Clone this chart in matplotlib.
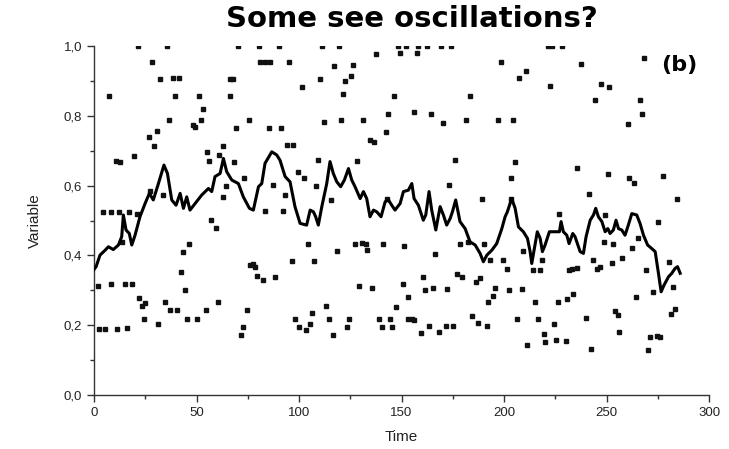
import matplotlib
matplotlib.use("Agg")
import matplotlib.pyplot as plt
from matplotlib.ticker import MultipleLocator, FuncFormatter

# scattered observations (time, value)
time_pts = [2.1, 2.5, 4.2, 5.5, 7.5, 8.1, 8.1, 10.7, 11.2, 12.0, 12.7, 13.8, 15.1, 16.2, 17.2,
            18.4, 19.4, 20.8, 21.6, 22.1, 23.3, 24.4, 24.9, 26.7, 27.3, 28.5, 29.3, 30.6, 31.4,
            32.2, 33.5, 34.6, 35.4, 36.4, 37.1, 38.4, 39.5, 40.6, 41.5, 42.3, 43.3, 44.4, 45.5,
            46.3, 48.4, 49.3, 50.4, 51.4, 52.2, 53.3, 54.5, 55.3, 56.3, 57.1, 59.4, 60.3, 61.1,
            62.8, 63.1, 64.4, 66.3, 66.3, 67.7, 68.5, 69.3, 70.4, 71.7, 72.5, 73.2, 74.5, 75.4,
            76.1, 77.7, 78.5, 79.4, 80.5, 81.0, 82.6, 83.4, 83.4, 85.5, 85.9, 87.5, 88.3, 90.4,
            91.2, 92.0, 93.2, 94.0, 95.3, 96.4, 97.2, 98.2, 99.4, 100.1, 101.3, 102.4, 103.4,
            104.2, 105.4, 106.3, 107.5, 108.3, 109.4, 110.1, 111.1, 112.2, 113.3, 114.5, 115.6,
            116.4, 117.2, 118.4, 119.4, 120.5, 121.6, 122.6, 123.4, 124.4, 125.4, 126.5, 127.5,
            128.4, 129.4, 130.6, 131.4, 132.5, 133.2, 134.6, 135.4, 136.6, 137.4, 139.2, 140.3,
            141.1, 142.3, 142.8, 143.3, 144.4, 145.2, 146.2, 147.2, 148.1, 149.3, 150.6, 151.2,
            152.2, 153.0, 153.3, 155.0, 156.1, 156.3, 157.4, 158.2, 159.5, 160.6, 161.5, 162.3,
            163.6, 164.4, 165.2, 166.3, 168.4, 169.3, 170.4, 171.6, 172.4, 173.3, 174.3, 175.3,
            176.2, 177.2, 178.5, 179.3, 181.3, 182.3, 183.3, 184.2, 186.2, 187.5, 188.3, 189.2,
            190.2, 191.6, 192.0, 193.2, 194.5, 195.6, 197.2, 198.5, 199.4, 201.3, 202.3, 203.4,
            203.4, 204.5, 205.5, 206.2, 207.3, 208.6, 209.4, 210.6, 211.4, 214.3, 215.3, 216.4,
            217.6, 218.4, 219.5, 220.2, 221.6, 222.4, 223.3, 224.5, 225.4, 226.2, 227.0, 228.3,
            230.2, 230.6, 231.9, 233.0, 233.5, 235.4, 235.8, 237.4, 240.0, 241.5, 242.3, 243.6,
            244.4, 245.2, 246.8, 247.2, 248.5, 249.3, 250.6, 251.4, 252.5, 253.3, 254.1, 255.5,
            256.2, 257.4, 260.2, 261.1, 262.3, 263.4, 264.4, 265.5, 266.3, 267.2, 268.3, 269.3,
            270.1, 271.2, 272.5, 274.5, 275.3, 276.1, 277.4, 280.5, 281.3, 282.6, 283.4, 284.2]
var_pts = [0.314, 0.190, 0.525, 0.190, 0.858, 0.318, 0.525, 0.672, 0.190, 0.525, 0.667, 0.440,
           0.317, 0.192, 0.525, 0.317, 0.684, 0.520, 1.0, 0.279, 0.255, 0.219, 0.264, 0.740,
           0.585, 0.953, 0.713, 0.757, 0.203, 0.905, 0.574, 0.266, 1.0, 0.787, 0.244, 0.907,
           0.858, 0.244, 0.907, 0.352, 0.409, 0.301, 0.219, 0.433, 0.774, 0.767, 0.219, 0.858,
           0.787, 0.820, 0.244, 0.695, 0.672, 0.503, 0.479, 0.266, 0.689, 0.568, 0.715, 0.599,
           0.905, 0.858, 0.905, 0.669, 0.764, 1.0, 0.172, 0.196, 0.622, 0.244, 0.787, 0.372,
           0.375, 0.366, 0.342, 1.0, 0.953, 0.330, 0.953, 0.527, 0.764, 0.953, 0.601, 0.338,
           1.0, 0.764, 0.527, 0.573, 0.716, 0.953, 0.385, 0.716, 0.219, 0.640, 0.196, 0.883,
           0.623, 0.186, 0.433, 0.203, 0.234, 0.385, 0.599, 0.673, 0.905, 1.0, 0.782, 0.255,
           0.219, 0.558, 0.173, 0.943, 0.413, 1.0, 0.787, 0.863, 0.899, 0.196, 0.219, 0.914,
           0.946, 0.433, 0.670, 0.314, 0.437, 0.787, 0.433, 0.415, 0.731, 0.307, 0.726, 0.976,
           0.219, 0.196, 0.433, 0.753, 0.562, 0.805, 0.219, 0.196, 0.858, 0.253, 1.0, 0.981,
           0.319, 0.427, 1.0, 0.280, 0.219, 0.219, 0.215, 0.811, 0.981, 1.0, 0.177, 0.338,
           0.301, 1.0, 0.198, 0.804, 0.307, 0.403, 0.181, 1.0, 0.780, 0.198, 0.304, 0.603,
           1.0, 0.198, 0.674, 0.346, 0.434, 0.337, 0.787, 0.440, 0.858, 0.226, 0.325, 0.207,
           0.335, 0.563, 0.434, 0.198, 0.266, 0.387, 0.285, 0.307, 0.787, 0.953, 0.387, 0.362,
           0.301, 0.622, 0.562, 0.787, 0.669, 0.217, 0.909, 0.304, 0.413, 0.929, 0.143, 0.357,
           0.266, 0.219, 0.357, 0.387, 0.174, 0.151, 1.0, 0.885, 1.0, 0.204, 0.159, 0.266,
           0.518, 1.0, 0.155, 0.274, 0.357, 0.360, 0.289, 0.650, 0.365, 0.948, 0.220, 0.576,
           0.131, 0.386, 0.845, 0.360, 0.366, 0.891, 0.439, 0.515, 0.632, 0.882, 0.379, 0.433,
           0.241, 0.229, 0.181, 0.394, 0.776, 0.623, 0.420, 0.609, 0.282, 0.449, 0.845, 0.804,
           0.965, 0.358, 0.129, 0.167, 0.294, 0.170, 0.495, 0.167, 0.627, 0.380, 0.231, 0.310,
           0.248, 0.563]

# smoothed curve
time_line = [0, 1, 2.9, 5.4, 7, 9.4, 11.9, 13.5, 14.3, 15.6,
             17.2, 18.4, 20, 22.4, 24.9, 27, 28.9, 31.4, 34.1, 35.8,
             37.9, 40, 42, 43.6, 45.2, 46.8, 49.3, 52.5, 55.8, 57.4,
             59, 61.5, 63.1, 64.7, 67.2, 70.4, 72.8, 75.8, 77.7, 80.2,
             81.8, 83.4, 86.7, 89.1, 90.7, 93.2, 95.6, 98, 100.5, 103.7,
             105.4, 107, 108.1, 109.4, 111.1, 113.5, 115.1, 116.7, 118.4, 120.3,
             122.1, 124.1, 125.7, 127.3, 129.8, 131.4, 133, 134.6, 136.3, 137.9,
             140, 142, 143.6, 145.2, 146.8, 149.3, 150.9, 153.3, 155, 156.1,
             158.2, 160.6, 161.8, 163.4, 164.7, 166.7, 168.8, 170.4, 172, 173.7,
             174.8, 176.4, 178.5, 181, 183.4, 185.9, 188.3, 189.9, 191.6, 194,
             196.4, 198.9, 200.5, 201.6, 203.7, 205.4, 207, 209.4, 211.4, 212.7,
             213.5, 214.8, 216.2, 217.6, 218.7, 220, 222.1, 224.9, 227, 227.8,
             228.9, 230.6, 231.7, 233.5, 234.6, 236, 237.1, 238.7, 240, 242,
             243.6, 244.7, 246, 247.7, 249.3, 250.6, 251.7, 253.3, 254.6, 255.8,
             257.4, 259, 260.6, 262.3, 264.7, 266.3, 268, 270, 272, 273.7,
             275.3, 276.6, 278, 280.2, 281.8, 283.4, 284.6, 285.9]
var_line = [0.36, 0.368, 0.401, 0.415, 0.425, 0.417, 0.430, 0.454, 0.516, 0.473,
            0.463, 0.430, 0.458, 0.511, 0.549, 0.578, 0.559, 0.606, 0.659, 0.635,
            0.559, 0.544, 0.578, 0.535, 0.568, 0.530, 0.549, 0.573, 0.592, 0.583,
            0.626, 0.635, 0.678, 0.640, 0.616, 0.606, 0.568, 0.535, 0.530, 0.597,
            0.606, 0.664, 0.697, 0.688, 0.673, 0.626, 0.611, 0.540, 0.492, 0.487,
            0.530, 0.525, 0.511, 0.487, 0.540, 0.606, 0.669, 0.635, 0.611, 0.597,
            0.616, 0.649, 0.616, 0.597, 0.563, 0.583, 0.563, 0.511, 0.530, 0.525,
            0.511, 0.554, 0.559, 0.544, 0.530, 0.549, 0.583, 0.587, 0.606, 0.563,
            0.544, 0.501, 0.516, 0.583, 0.530, 0.473, 0.540, 0.516, 0.487, 0.506,
            0.525, 0.559, 0.497, 0.477, 0.439, 0.430, 0.406, 0.382, 0.401, 0.415,
            0.434, 0.477, 0.511, 0.525, 0.563, 0.535, 0.482, 0.468, 0.449, 0.411,
            0.377, 0.420, 0.468, 0.449, 0.411, 0.430, 0.468, 0.468, 0.468, 0.497,
            0.468, 0.458, 0.434, 0.463, 0.454, 0.430, 0.411, 0.406, 0.454, 0.501,
            0.516, 0.535, 0.511, 0.497, 0.468, 0.477, 0.463, 0.473, 0.501, 0.477,
            0.473, 0.458, 0.487, 0.520, 0.516, 0.492, 0.458, 0.430, 0.420, 0.411,
            0.349, 0.296, 0.315, 0.339, 0.349, 0.363, 0.368, 0.349]

plt.rcParams['font.family'] = ['Liberation Sans', 'DejaVu Sans']

fig = plt.figure(figsize=(7.29, 4.49), dpi=100)
ax = fig.add_axes([0.129, 0.120, 0.8437, 0.7775])

ax.plot(time_pts, var_pts, 's', ms=2.5, color='#111111', mec='#111111', zorder=2)
ax.plot(time_line, var_line, '-', lw=2.2, color='#000000', zorder=3)

ax.set_xlim(0, 300)
ax.set_ylim(0, 1.0)
ax.xaxis.set_major_locator(MultipleLocator(50))
ax.xaxis.set_minor_locator(MultipleLocator(25))
ax.yaxis.set_major_locator(MultipleLocator(0.2))
ax.yaxis.set_minor_locator(MultipleLocator(0.1))
ax.yaxis.set_major_formatter(FuncFormatter(lambda v, p: f"{v:.1f}".replace('.', ',')))

for s in ['top', 'right']:
    ax.spines[s].set_visible(False)
for s in ['left', 'bottom']:
    ax.spines[s].set_linewidth(1.0)
    ax.spines[s].set_color('#333333')

ax.tick_params(which='major', direction='out', length=5, width=1, colors='#333333',
               labelsize=9.5, labelcolor='#222222')
ax.tick_params(which='minor', direction='out', length=3, width=1, colors='#333333')

ax.set_xlabel('Time', fontsize=11, color='#222222', labelpad=8)
ax.set_ylabel('Variable', fontsize=11, color='#222222', labelpad=16)
fig.text(0.565, 0.958, 'Some see oscillations?', fontsize=21, fontweight='bold',
         family='DejaVu Sans', ha='center', va='center')
ax.text(0.922, 0.946, '(b)', transform=ax.transAxes, fontsize=16, fontweight='bold',
        family='DejaVu Sans', ha='left', va='center')

fig.savefig('out.png', dpi=100)
